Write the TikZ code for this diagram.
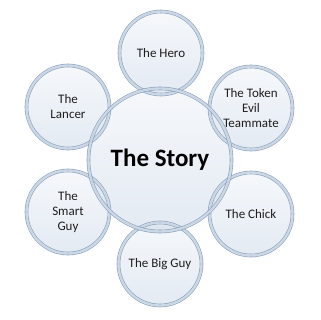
\documentclass[tikz,border=0pt]{standalone}
\usepackage{fontspec}
\setmainfont{Carlito}
\definecolor{ringdark}{HTML}{8199B6}
\definecolor{ringlight}{HTML}{D2DDEA}
\definecolor{filltop}{HTML}{EBF0F7}
\definecolor{fillbot}{HTML}{C3D2E5}
\definecolor{txt}{HTML}{1E1E1E}
\tikzset{
  bubble/.style={circle, top color=filltop, bottom color=fillbot, fill opacity=0.45, text opacity=1,
    text=txt, align=center, font=\fontsize{13}{15}\selectfont, inner sep=0pt},
  sat/.style={bubble, minimum size=83pt},
  hub/.style={bubble, minimum size=143pt, font=\fontsize{25}{29}\selectfont\bfseries, text=black},
  ring/.style={draw=ringdark, line width=0.6pt, double=ringlight, double distance=2.4pt, draw opacity=0.9}
}
\begin{document}
\begin{tikzpicture}[x=1pt,y=-1pt]
\useasboundingbox (0,0) rectangle (320,320);
\fill[white] (0,0) rectangle (320,320);
\node[sat] (hero) at (161,53) {The Hero};
\node[sat] (token) at (251,108) {The Token\\Evil\\Teammate};
\node[sat] (chick) at (251,214) {The Chick};
\node[sat] (big) at (160,264) {The Big Guy};
\node[sat] (smart) at (68,212) {The\\Smart\\Guy};
\node[sat] (lancer) at (68,107) {The\\Lancer};
\node[hub] (story) at (160,160) {The Story};
\foreach \n in {hero,token,chick,big,smart,lancer}
  \draw[ring] (\n.center) circle[radius=41.5];
\draw[ring] (story.center) circle[radius=71.5];
\end{tikzpicture}
\end{document}
